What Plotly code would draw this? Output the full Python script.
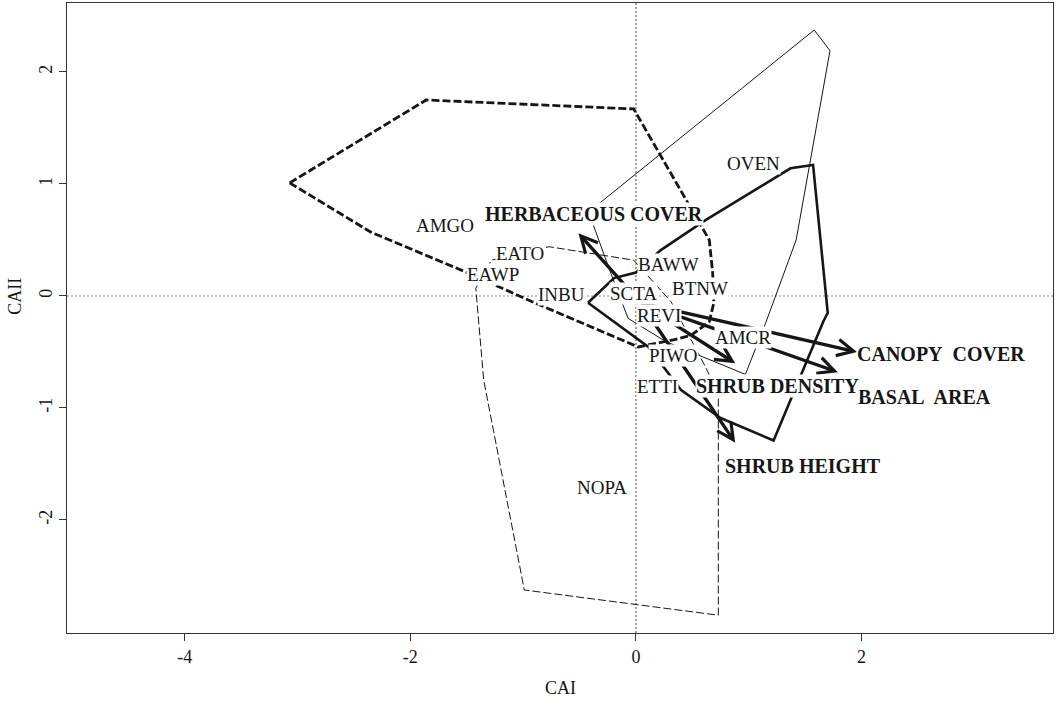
import plotly.graph_objects as go

# ---- data ----
# species hull polygons (CAI, CAII)
hull_thick_dash_x = [-3.07, -1.86, -0.02, 0.575, 0.65, 0.68, 0.69, 0.65, 0.49, 0.34, 0.02, -0.90, -1.50, -2.35]
hull_thick_dash_y = [1.01, 1.75, 1.67, 0.62, 0.50, 0.205, -0.06, -0.23, -0.35, -0.39, -0.455, -0.06, 0.21, 0.57]

hull_thick_solid_x = [-0.425, -0.195, 0.0, 0.22, 0.62, 1.28, 1.37, 1.57, 1.70, 1.66, 1.22, 0.75, 0.40, 0.11]
hull_thick_solid_y = [-0.06, 0.16, 0.21, 0.41, 0.68, 1.08, 1.14, 1.17, -0.15, -0.23, -1.29, -1.09, -0.84, -0.455]

hull_thin_solid_x = [-0.42, -0.24, -0.07, 0.27, 0.97, 1.15, 1.42, 1.72, 1.58]
hull_thin_solid_y = [0.75, 0.25, -0.20, -0.41, -0.70, -0.24, 0.50, 2.19, 2.375]

hull_thin_dash_x = [-1.42, -1.28, -0.77, -0.02, 0.31, 0.62, 0.73, 0.73, -0.99, -1.35]
hull_thin_dash_y = [0.07, 0.32, 0.44, 0.32, -0.05, -0.64, -0.88, -2.85, -2.625, -0.75]

# species labels
species = ["OVEN", "AMGO", "EATO", "EAWP", "INBU", "SCTA", "BAWW", "BTNW",
           "REVI", "AMCR", "PIWO", "ETTI", "NOPA"]
species_x = [1.04, -1.69, -1.03, -1.27, -0.66, -0.02, 0.29, 0.57, 0.20, 0.95, 0.33, 0.195, -0.30]
species_y = [1.18, 0.63, 0.375, 0.19, 0.01, 0.02, 0.28, 0.07, -0.17, -0.37, -0.53, -0.81, -1.71]

# environmental vectors
arrow_origin = (0.04, -0.06)
env_names = ["HERBACEOUS COVER", "CANOPY\u00a0 COVER", "BASAL\u00a0 AREA", "SHRUB DENSITY", "SHRUB HEIGHT"]
env_tip_x = [-0.51, 1.96, 1.79, 0.88, 0.88]
env_tip_y = [0.56, -0.50, -0.68, -0.60, -1.31]
env_label_x = [-0.37, 2.70, 2.56, 1.257, 1.48]
env_label_y = [0.73, -0.52, -0.90, -0.80, -1.52]

x_ticks = [-4, -2, 0, 2]
y_ticks = [-2, -1, 0, 1, 2]

FONT = "Liberation Serif, Times New Roman, serif"
INK = "#161616"

fig = go.Figure()


def closed(xs, ys):
    return list(xs) + [xs[0]], list(ys) + [ys[0]]


for xs, ys, w, dash in [
    (hull_thin_solid_x, hull_thin_solid_y, 1.0, "solid"),
    (hull_thin_dash_x, hull_thin_dash_y, 1.0, "8px,3px"),
    (hull_thick_dash_x, hull_thick_dash_y, 2.8, "8px,3px"),
    (hull_thick_solid_x, hull_thick_solid_y, 2.6, "solid"),
]:
    cx, cy = closed(xs, ys)
    fig.add_trace(go.Scatter(x=cx, y=cy, mode="lines",
                             line=dict(color=INK, width=w, dash=dash),
                             hoverinfo="skip", showlegend=False))

# zero reference lines
fig.add_shape(type="line", xref="paper", yref="y", x0=0, x1=1, y0=0, y1=0,
              line=dict(color="#8a8a8a", width=1, dash="2px,2px"), layer="below")
fig.add_shape(type="line", xref="x", yref="paper", x0=0, x1=0, y0=0, y1=1,
              line=dict(color="#444444", width=1, dash="2px,2px"), layer="below")

annotations = []
# arrows
for tx, ty in zip(env_tip_x, env_tip_y):
    annotations.append(dict(x=tx, y=ty, xref="x", yref="y",
                            ax=arrow_origin[0], ay=arrow_origin[1], axref="x", ayref="y",
                            text="", showarrow=True, arrowhead=5, arrowsize=0.95,
                            arrowwidth=3.4, arrowcolor=INK, standoff=0, startstandoff=0))
# species labels
for name, x, y in zip(species, species_x, species_y):
    annotations.append(dict(x=x, y=y, xref="x", yref="y", text=name, showarrow=False,
                            font=dict(family=FONT, size=19, color=INK),
                            bgcolor="white", borderpad=0,
                            xanchor="center", yanchor="middle"))
# environmental labels
for name, x, y in zip(env_names, env_label_x, env_label_y):
    annotations.append(dict(x=x, y=y, xref="x", yref="y", text="<b>" + name + "</b>",
                            showarrow=False,
                            font=dict(family=FONT, size=20, color=INK),
                            bgcolor="white", borderpad=0,
                            xanchor="center", yanchor="middle"))
# axis titles
annotations.append(dict(x=0.5, y=-0.087, xref="paper", yref="paper", text="CAI",
                        showarrow=False, font=dict(family=FONT, size=18, color=INK),
                        xanchor="center", yanchor="middle"))
annotations.append(dict(x=-0.053, y=0, xref="paper", yref="y", text="CAII",
                        showarrow=False, textangle=-90,
                        font=dict(family=FONT, size=18, color=INK),
                        xanchor="center", yanchor="middle"))

axis_common = dict(showgrid=False, zeroline=False, showline=True, mirror=True,
                   linecolor="#333333", linewidth=1, ticks="outside", ticklen=7,
                   tickcolor="#333333", tickwidth=1, automargin=False,
                   tickfont=dict(family=FONT, size=18, color=INK))

fig.update_layout(
    width=1056, height=708,
    margin=dict(l=67, r=3, t=3, b=75, autoexpand=False),
    paper_bgcolor="white", plot_bgcolor="white",
    xaxis=dict(range=[-5.044, 3.697], tickvals=x_ticks, ticktext=[str(v) for v in x_ticks],
               **axis_common),
    yaxis=dict(range=[-3.009, 2.616], tickvals=y_ticks, ticktext=[str(v) for v in y_ticks],
               tickangle=-90, **axis_common),
    annotations=annotations,
    showlegend=False,
)

fig.write_html("out.html", config={"displayModeBar": False},
               post_script="document.body.style.margin='0';document.body.style.overflow='hidden';")
